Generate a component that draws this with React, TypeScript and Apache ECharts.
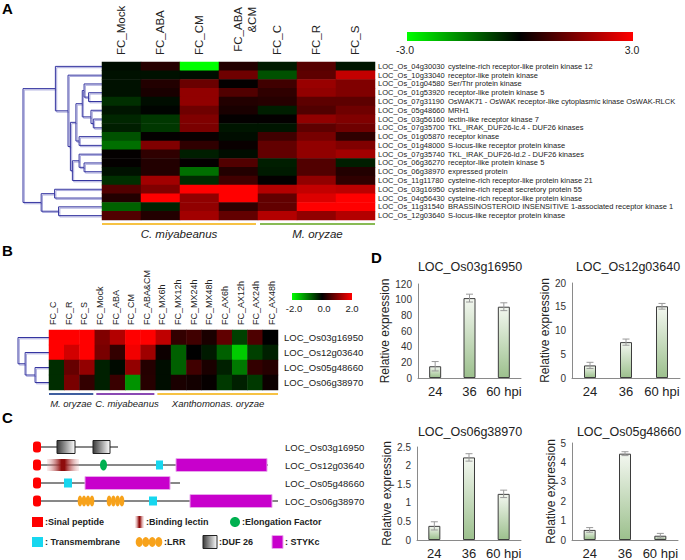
import React, { useEffect, useRef } from 'react';
import * as echarts from 'echarts';

const FONT = "'Liberation Sans', Arial, Helvetica, sans-serif";

// ---------- Panel A data ----------
const colsA = ['FC_Mock', 'FC_ABA', 'FC_CM', 'FC_ABA\n&CM', 'FC_C', 'FC_R', 'FC_S'];
const geneIdsA = [
  'LOC_Os_04g30030', 'LOC_Os_10g33040', 'LOC_Os_01g04580', 'LOC_Os_01g53920', 'LOC_Os_07g31190',
  'LOC_Os_05g48660', 'LOC_Os_03g56160', 'LOC_Os_07g35700', 'LOC_Os_01g05870', 'LOC_Os_01g48000',
  'LOC_Os_07g35740', 'LOC_Os_06g36270', 'LOC_Os_06g38970', 'LOC_Os_11g11780', 'LOC_Os_03g16950',
  'LOC_Os_04g56430', 'LOC_Os_11g31540', 'LOC_Os_12g03640',
];
const geneDescA = [
  'cysteine-rich receptor-like protein kinase 12', 'receptor-like protein kinase', 'Ser/Thr protein kinase',
  'receptor-like protein kinase 5', 'OsWAK71 - OsWAK receptor-like cytoplasmic kinase OsWAK-RLCK', 'MRH1',
  'lectin-like receptor kinase 7', 'TKL_IRAK_DUF26-lc.4 - DUF26 kinases', 'receptor kinase',
  'S-locus-like receptor protein kinase', 'TKL_IRAK_DUF26-ld.2 - DUF26 kinases', 'receptor-like protein kinase 5',
  'expressed protein', 'cysteine-rich receptor-like protein kinase 21', 'cysteine-rich repeat secretory protein 55',
  'cysteine-rich receptor-like protein kinase', 'BRASSINOSTEROID INSENSITIVE 1-associated receptor kinase 1',
  'S-locus-like receptor protein kinase',
];
// rows: Mock, ABA, CM, ABA&CM, C, R, S
const valuesA = [
  [-0.15, 0.45, -3.0, 0.4, -0.3, 1.0, -0.25],
  [-0.2, -0.2, -0.15, 1.3, -0.95, 1.1, 2.3],
  [-0.2, 0.4, 1.25, 0.05, 0.75, 1.8, 1.5],
  [-0.2, 0.3, 1.7, 0.95, 0.55, 1.7, 1.5],
  [-0.55, -0.15, 1.7, 0.4, 0.45, 1.1, 1.1],
  [-0.25, -0.05, 1.3, 0.3, -0.35, 0.95, 1.3],
  [-0.45, -0.65, 1.5, 0.05, 0.05, 1.7, 1.5],
  [-0.35, -0.65, 1.45, -0.25, -0.25, 1.1, 1.3],
  [-0.95, 0.05, 0.1, -0.15, 0.75, 1.4, 0.55],
  [-1.3, 1.5, 0.55, 0.1, 1.15, 1.7, 1.5],
  [0.05, 0.55, -0.35, -0.15, 1.15, 1.7, 1.9],
  [0.05, 0.4, 0.05, 0.95, -0.35, 0.95, -0.35],
  [-0.2, 0.4, -1.3, 0.4, -0.3, 0.95, 0.4],
  [-0.55, 1.9, -0.5, 0.75, 0.05, 1.7, 0.55],
  [0.95, 1.5, 3.0, 3.0, 2.1, 2.3, 2.2],
  [0.4, 3.0, 1.7, 3.0, 1.15, 2.6, 3.0],
  [-1.15, -0.4, 1.7, 0.55, 1.15, 3.0, 3.0],
  [0.95, 0.4, 1.9, 1.15, 2.1, 1.7, 2.1],
];
// linkage: [childA, childB, height] ; leaves 0..17, internal nodes 18..
const dendroA = [
  [3, 4, 0.17], [2, 18, 0.227], [6, 7, 0.11], [5, 20, 0.14], [19, 21, 0.25], [8, 9, 0.29],
  [22, 23, 0.33], [11, 12, 0.227], [10, 25, 0.29], [26, 13, 0.375], [24, 27, 0.4], [1, 28, 0.43],
  [0, 29, 0.59], [14, 15, 0.6], [16, 17, 0.55], [31, 32, 0.77], [30, 33, 1.0],
];
const groupsA = [
  { name: 'C. miyabeanus', from: 0, to: 3, color: '#f6c244' },
  { name: 'M. oryzae', from: 4, to: 6, color: '#88bb55' },
];
const scaleTicksA = ['-3.0', '3.0'];

// ---------- Panel B data ----------
const colsB = ['FC_C', 'FC_R', 'FC_S', 'FC_Mock', 'FC_ABA', 'FC_CM', 'FC_ABA&CM', 'FC_MX6h', 'FC_MX12h',
  'FC_MX24h', 'FC_MX48h', 'FC_AX6h', 'FC_AX12h', 'FC_AX24h', 'FC_AX48h'];
const geneIdsB = ['LOC_Os03g16950', 'LOC_Os12g03640', 'LOC_Os05g48660', 'LOC_Os06g38970'];
const valuesB = [
  [2.0, 2.0, 2.0, 1.0, 1.4, 2.0, 2.0, 1.5, 0.4, 0.5, 0.2, 0.75, -0.5, 0.6, 0.0],
  [2.0, 1.65, 2.0, 0.95, 0.4, 1.9, 1.25, 0.1, -0.75, 0.0, -0.2, -0.75, -1.6, -0.5, -0.25],
  [-0.35, 0.8, 1.15, -0.25, -0.08, 1.15, 0.28, -0.1, -0.75, 0.5, 0.2, -0.25, -0.95, 0.4, 0.3],
  [-0.35, 0.95, 0.4, -0.25, 0.45, -1.15, 0.3, -0.1, 0.2, 0.15, 0.05, -0.45, -0.25, -0.45, 0.1],
];
const dendroB = [[2, 3, 0.45], [1, 4, 0.77], [0, 5, 1.0]];
const groupsB = [
  { name: 'M. oryzae', from: 0, to: 2, color: '#3f5e9f' },
  { name: 'C. miyabeanus', from: 3, to: 6, color: '#8a49b3' },
  { name: 'Xanthomonas. oryzae', from: 7, to: 14, color: '#f6c244' },
];
const scaleTicksB = ['-2.0', '0.0', '2.0'];

// ---------- Panel C data (protein coordinates) ----------
const genesC = ['LOC_Os03g16950', 'LOC_Os12g03640', 'LOC_Os05g48660', 'LOC_Os06g38970'];
const lengthsC = [85, 235, 147, 245];
const domainsC = [
  [['sig', 0, 8], ['duf', 24, 42], ['duf', 60, 77]],
  [['sig', 0, 8], ['lectin', 14, 46], ['ef', 67, 74], ['tm', 123, 130], ['stykc', 143, 234]],
  [['sig', 0, 8], ['tm', 31, 39], ['stykc', 52, 137]],
  [['sig', 0, 8], ['lrr', 45, 61], ['lrr', 74, 91], ['tm', 116, 124], ['stykc', 157, 239]],
];
const legendC = [
  [['sig', ':Sinal peptide'], ['lectin', ':Binding lectin'], ['ef', ':Elongation Factor']],
  [['tm', ': Transmembrane'], ['lrr', ':LRR'], ['duf', ':DUF 26'], ['stykc', ': STYKc']],
];

// ---------- Panel D data ----------
const hpi = ['24', '36', '60 hpi'];
const qpcrTitles = ['LOC_Os03g16950', 'LOC_Os12g03640', 'LOC_Os06g38970', 'LOC_Os05g48660'];
const qpcrMean = [
  [15, 102, 91],
  [2.65, 7.55, 15.1],
  [0.38, 2.22, 1.24],
  [0.52, 4.45, 0.22],
];
const qpcrErr = [
  [6, 5, 5],
  [0.65, 0.65, 0.6],
  [0.11, 0.1, 0.1],
  [0.12, 0.1, 0.12],
];
const qpcrMax = [120, 20, 2.5, 5];
const qpcrStep = [20, 5, 0.5, 1];

// ---------- layout ----------
const GA = { left: 102, top: 62, width: 273, height: 158 };
const GB = { left: 49, top: 330, width: 229, height: 60 };
const GD = [
  { left: 418, top: 284, width: 103, height: 94, gap: 22, title: [470, 267] },
  { left: 572, top: 283, width: 108, height: 95, gap: 17, title: [628, 267] },
  { left: 417, top: 447, width: 104, height: 94, gap: 22, title: [470, 432] },
  { left: 572, top: 443, width: 106, height: 97, gap: 13, title: [629, 432] },
];

const HEAT = ['#00ff00', '#000000', '#ff0000'];

function dendro(merges, n, leafY, xLeaf, scale) {
  const pos = [];
  for (let i = 0; i < n; i++) pos.push([xLeaf, leafY(i)]);
  const lines = [];
  merges.forEach(([a, b, h]) => {
    const xm = xLeaf - h * scale;
    const pa = pos[a], pb = pos[b];
    lines.push([[pa[0], pa[1]], [xm, pa[1]], [xm, pb[1]], [pb[0], pb[1]]]);
    pos.push([xm, (pa[1] + pb[1]) / 2]);
  });
  return lines;
}

function txt(x, y, text, o = {}) {
  return {
    type: 'text', x, y, rotation: o.rotation || 0, z: 10,
    style: {
      text, fill: o.fill || '#222', fontSize: o.size || 10, fontFamily: o.family || FONT,
      fontWeight: o.weight || 'normal', fontStyle: o.italic ? 'italic' : 'normal',
      textAlign: o.align || 'left', textVerticalAlign: o.valign || 'middle', lineHeight: o.lh,
    },
  };
}

function domainShape(type, x0, x1, cy, legend = false) {
  const els = [];
  const w = x1 - x0;
  if (type === 'sig') {
    if (legend) els.push({ type: 'rect', shape: { x: x0, y: cy - 5, width: w, height: 10 }, style: { fill: '#ff0000' } });
    else els.push({ type: 'rect', shape: { x: x0, y: cy - 5.5, width: w, height: 11, r: 3 }, style: { fill: '#ff0000' } });
  } else if (type === 'duf') {
    els.push({ type: 'rect', shape: { x: x0, y: cy - 6.5, width: w, height: 13 },
      style: { fill: new echarts.graphic.LinearGradient(0, 0, 1, 0, [{ offset: 0, color: '#3a3a3a' }, { offset: 1, color: '#ffffff' }]), stroke: '#222', lineWidth: 1 } });
  } else if (type === 'lectin') {
    els.push({ type: 'rect', shape: { x: x0, y: cy - 6, width: w, height: 12 },
      style: { fill: new echarts.graphic.LinearGradient(0, 0, 1, 0, [
        { offset: 0, color: 'rgba(230,170,170,0.2)' }, { offset: 0.45, color: '#8e0c0c' }, { offset: 0.55, color: '#8e0c0c' }, { offset: 1, color: 'rgba(230,170,170,0.2)' }]) } });
  } else if (type === 'ef') {
    els.push({ type: 'ellipse', shape: { cx: (x0 + x1) / 2, cy, rx: w / 2, ry: legend ? 5 : 5.5 }, style: { fill: '#00b050' } });
  } else if (type === 'tm') {
    els.push({ type: 'rect', shape: { x: x0, y: cy - (legend ? 5 : 4.5), width: w, height: legend ? 10 : 9 }, style: { fill: '#17d7ef' } });
  } else if (type === 'stykc') {
    els.push({ type: 'rect', shape: { x: x0, y: cy - 6.5, width: w, height: 13 }, style: { fill: '#c800cc', stroke: '#e8a6ec', lineWidth: 1 } });
  } else if (type === 'lrr') {
    const ew = w / 4;
    for (let k = 0; k < 4; k++) {
      els.push({ type: 'ellipse', shape: { cx: x0 + ew * (k + 0.5), cy, rx: ew / 2 + 0.3, ry: legend ? 5 : 5.5 }, style: { fill: '#f7a21b' } });
    }
  }
  return els;
}

function buildGraphics() {
  const g = [];
  // panel letters
  g.push(txt(2, 8, 'A', { size: 15, weight: 'bold', fill: '#000' }));
  g.push(txt(2, 250, 'B', { size: 15, weight: 'bold', fill: '#000' }));
  g.push(txt(2, 417, 'C', { size: 15, weight: 'bold', fill: '#000' }));
  g.push(txt(371, 257, 'D', { size: 15, weight: 'bold', fill: '#000' }));

  // ---- A headers ----
  const cwA = GA.width / colsA.length;
  colsA.forEach((c, i) => {
    const cx = GA.left + cwA * (i + 0.5);
    if (c.indexOf('\n') >= 0) {
      g.push(txt(cx + 6, 7, c, { size: 11.5, rotation: Math.PI / 2, align: 'right', lh: 14 }));
    } else {
      g.push(txt(cx - 1, 55, c, { size: 11.5, rotation: Math.PI / 2, align: 'left' }));
    }
  });
  // A colour scale
  g.push({ type: 'rect', shape: { x: 407, y: 32, width: 226, height: 9 },
    style: { fill: new echarts.graphic.LinearGradient(0, 0, 1, 0, [{ offset: 0, color: HEAT[0] }, { offset: 0.5, color: HEAT[1] }, { offset: 1, color: HEAT[2] }]) } });
  g.push(txt(405, 50, scaleTicksA[0], { size: 10.5, align: 'center' }));
  g.push(txt(632, 50, scaleTicksA[1], { size: 10.5, align: 'center' }));
  // A group bars
  groupsA.forEach((gr, k) => {
    const x0 = GA.left + cwA * gr.from + (k > 0 ? 2 : 0);
    const x1 = GA.left + cwA * (gr.to + 1) - (k === 0 ? 2 : 0);
    g.push({ type: 'line', shape: { x1: x0, y1: 224, x2: x1, y2: 224 }, style: { stroke: gr.color, lineWidth: 2 } });
    g.push(txt((x0 + x1) / 2, 234, gr.name, { size: 11.5, italic: true, align: 'center' }));
  });
  // A dendrogram
  const rhA = GA.height / geneIdsA.length;
  const linesA = dendro(dendroA, geneIdsA.length, (i) => GA.top + rhA * (i + 0.5), GA.left, 79);
  linesA.forEach((pts) => {
    g.push({ type: 'polyline', shape: { points: pts.map(([x, y]) => [x + 1.3, y + 1.3]) }, style: { stroke: '#a9a9dc', lineWidth: 1, fill: null } });
  });
  linesA.forEach((pts) => {
    g.push({ type: 'polyline', shape: { points: pts }, style: { stroke: '#3535a0', lineWidth: 1, fill: null } });
  });

  // ---- B headers ----
  colsB.forEach((c, i) => {
    g.push(txt(53 + 15.64 * i, 325, c, { size: 9, rotation: Math.PI / 2, align: 'left' }));
  });
  g.push({ type: 'rect', shape: { x: 292, y: 293, width: 60, height: 7 },
    style: { fill: new echarts.graphic.LinearGradient(0, 0, 1, 0, [{ offset: 0, color: HEAT[0] }, { offset: 0.5, color: HEAT[1] }, { offset: 1, color: HEAT[2] }]) } });
  [294, 324, 352].forEach((x, i) => g.push(txt(x, 308, scaleTicksB[i], { size: 9.5, align: 'center' })));
  const cwB = GB.width / colsB.length;
  groupsB.forEach((gr, k) => {
    const x0 = GB.left + cwB * gr.from + (k > 0 ? 1.5 : 0);
    const x1 = GB.left + cwB * (gr.to + 1) - (k < groupsB.length - 1 ? 1.5 : 0);
    g.push({ type: 'line', shape: { x1: x0, y1: 394, x2: x1, y2: 394 }, style: { stroke: gr.color, lineWidth: 2 } });
  });
  g.push(txt(71, 403, groupsB[0].name, { size: 9.5, italic: true, align: 'center' }));
  g.push(txt(127, 403, groupsB[1].name, { size: 9.5, italic: true, align: 'center' }));
  g.push(txt(218, 403, groupsB[2].name, { size: 9.5, italic: true, align: 'center' }));
  const rhB = GB.height / geneIdsB.length;
  const linesB = dendro(dendroB, geneIdsB.length, (i) => GB.top + rhB * (i + 0.5), GB.left, 31);
  linesB.forEach((pts) => {
    g.push({ type: 'polyline', shape: { points: pts.map(([x, y]) => [x + 1.3, y + 1.3]) }, style: { stroke: '#a9a9dc', lineWidth: 1, fill: null } });
  });
  linesB.forEach((pts) => {
    g.push({ type: 'polyline', shape: { points: pts }, style: { stroke: '#3535a0', lineWidth: 1, fill: null } });
  });

  // ---- C gene structures ----
  const cx0 = 33;
  const rowY = [447, 465, 483, 501];
  genesC.forEach((name, i) => {
    const y = rowY[i];
    g.push({ type: 'line', shape: { x1: cx0 + 4, y1: y, x2: cx0 + lengthsC[i], y2: y }, style: { stroke: '#111', lineWidth: 1 } });
    domainsC[i].forEach(([t, s, e]) => domainShape(t, cx0 + s, cx0 + e, y).forEach((el) => g.push(el)));
    g.push(txt(285, y, name, { size: 9.5 }));
  });
  // C legend
  const legX = [[32, 135, 230], [32, 136, 203, 272]];
  const legW = { sig: 11, lectin: 9, ef: 10, tm: 11, lrr: 26, duf: 14, stykc: 11 };
  const legY = [522, 542];
  legendC.forEach((row, r) => {
    row.forEach(([t, label], k) => {
      const x = legX[r][k];
      const w = legW[t];
      domainShape(t, x, x + w, legY[r], true).forEach((el) => g.push(el));
      g.push(txt(x + w + 2, legY[r], label, { size: 9, weight: 'bold' }));
    });
  });

  // ---- D titles ----
  GD.forEach((gd, i) => {
    g.push(txt(gd.title[0], gd.title[1], qpcrTitles[i], { size: 12.5, align: 'center' }));
  });
  return g;
}

export default function App() {
  const ref = useRef(null);
  useEffect(() => {
    document.body.style.margin = '0';
    const chart = echarts.init(ref.current, null, { renderer: 'svg' });

    const heatA = [];
    valuesA.forEach((row, r) => row.forEach((v, c) => heatA.push([c, r, v])));
    const heatB = [];
    valuesB.forEach((row, r) => row.forEach((v, c) => heatB.push([c, r, v])));

    const grids = [
      { ...GA, containLabel: false },
      { ...GB, containLabel: false },
      ...GD.map((d) => ({ left: d.left, top: d.top, width: d.width, height: d.height })),
    ];
    const hiddenCat = (data, gi) => ({
      type: 'category', data, gridIndex: gi, show: false,
      axisLine: { show: false }, axisTick: { show: false }, axisLabel: { show: false }, splitLine: { show: false },
    });
    const xAxes = [
      hiddenCat(colsA, 0),
      hiddenCat(colsB, 1),
      ...GD.map((d, i) => ({
        type: 'category', data: hpi, gridIndex: i + 2,
        axisLine: { lineStyle: { color: '#8a8a8a', width: 1 } }, axisTick: { show: false },
        axisLabel: { interval: 0, fontSize: 13, color: '#222', fontFamily: FONT, margin: 7 },
      })),
    ];
    const yAxes = [
      {
        type: 'category', data: geneIdsA, gridIndex: 0, inverse: true, position: 'right',
        axisLine: { show: false }, axisTick: { show: false }, splitLine: { show: false },
        axisLabel: {
          interval: 0, margin: 3, fontSize: 7.5, color: '#222', fontFamily: FONT,
          formatter: (v, idx) => `{id|${v}}{d|${geneDescA[idx]}}`,
          rich: { id: { width: 70, fontSize: 7.5, fontFamily: FONT, color: '#222' }, d: { fontSize: 7.5, fontFamily: FONT, color: '#222' } },
        },
      },
      {
        type: 'category', data: geneIdsB, gridIndex: 1, inverse: true, position: 'right',
        axisLine: { show: false }, axisTick: { show: false }, splitLine: { show: false },
        axisLabel: { interval: 0, margin: 6, fontSize: 9.5, color: '#222', fontFamily: FONT },
      },
      ...GD.map((d, i) => ({
        type: 'value', gridIndex: i + 2, min: 0, max: qpcrMax[i], interval: qpcrStep[i],
        name: 'Relative expression', nameLocation: 'middle', nameGap: d.gap,
        nameTextStyle: { fontSize: 12, color: '#222', fontFamily: FONT },
        axisLine: { show: true, lineStyle: { color: '#8a8a8a', width: 1 } }, axisTick: { show: false },
        splitLine: { show: false },
        axisLabel: { fontSize: 10, color: '#333', fontFamily: FONT, margin: 6 },
      })),
    ];

    const barSeries = qpcrMean.map((vals, i) => ({
      type: 'bar', xAxisIndex: i + 2, yAxisIndex: i + 2, data: vals, barWidth: 12,
      itemStyle: {
        color: new echarts.graphic.LinearGradient(0, 0, 0, 1, [{ offset: 0, color: '#f3f7f0' }, { offset: 1, color: '#9cc08d' }]),
        borderColor: '#3d3d3d', borderWidth: 1,
      },
      emphasis: { disabled: true },
    }));
    const errSeries = qpcrMean.map((vals, i) => ({
      type: 'custom', xAxisIndex: i + 2, yAxisIndex: i + 2, z: 5,
      data: vals.map((v, k) => [k, v, qpcrErr[i][k]]),
      encode: { x: 0, y: 1 },
      renderItem: (params, api) => {
        const x = api.value(0), v = api.value(1), e = api.value(2);
        const t = api.coord([x, v + e]);
        const b = api.coord([x, v - e]);
        const hw = 3.5;
        const st = { stroke: '#9a9a9a', lineWidth: 1 };
        return {
          type: 'group', children: [
            { type: 'line', shape: { x1: t[0], y1: t[1], x2: b[0], y2: b[1] }, style: st },
            { type: 'line', shape: { x1: t[0] - hw, y1: t[1], x2: t[0] + hw, y2: t[1] }, style: st },
            { type: 'line', shape: { x1: b[0] - hw, y1: b[1], x2: b[0] + hw, y2: b[1] }, style: st },
          ],
        };
      },
    }));

    chart.setOption({
      animation: false,
      backgroundColor: '#ffffff',
      grid: grids,
      xAxis: xAxes,
      yAxis: yAxes,
      visualMap: [
        { type: 'continuous', seriesIndex: 0, min: -3, max: 3, show: false, inRange: { color: HEAT } },
        { type: 'continuous', seriesIndex: 1, min: -2, max: 2, show: false, inRange: { color: HEAT } },
      ],
      series: [
        { type: 'heatmap', xAxisIndex: 0, yAxisIndex: 0, data: heatA, emphasis: { disabled: true }, itemStyle: { borderWidth: 0 } },
        { type: 'heatmap', xAxisIndex: 1, yAxisIndex: 1, data: heatB, emphasis: { disabled: true }, itemStyle: { borderWidth: 0 } },
        ...barSeries,
        ...errSeries,
      ],
      graphic: { elements: buildGraphics() },
    });
    return () => chart.dispose();
  }, []);
  return <div ref={ref} style={{ width: 685, height: 560 }} />;
}
